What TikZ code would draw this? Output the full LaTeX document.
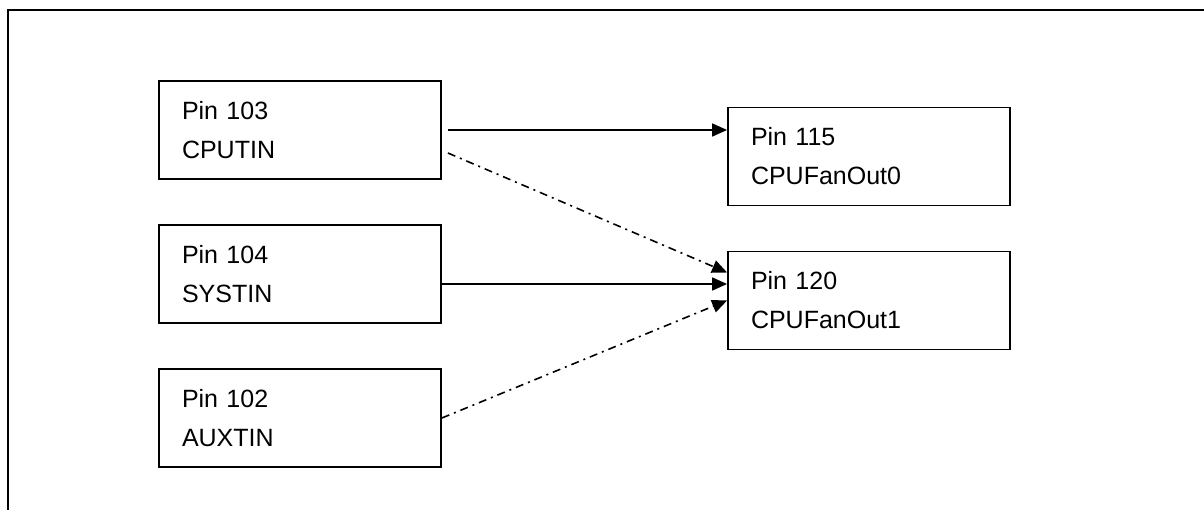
\documentclass[tikz,border=0pt]{standalone}
\usepackage{fontspec}
\setmainfont{Liberation Sans}
\usepackage{tikz}
\usetikzlibrary{arrows.meta}
\tikzstyle{pinbox} = [rectangle, draw=black, line width=1.8pt, minimum width=282pt, minimum height=98pt, text width=236pt, inner xsep=23pt, inner ysep=0pt, align=left, font=\fontsize{25}{39}\selectfont]
\tikzstyle{arrow} = [line width=1.6pt, -{Triangle[length=15pt, width=13pt]}]
\tikzstyle{optarrow} = [arrow, dash pattern=on 8pt off 5pt on 2pt off 5pt]

\begin{document}
\begin{tikzpicture}[x=1pt, y=-1pt, node distance=144pt]
      \useasboundingbox (0,0) rectangle (1204,510);
      \clip (0,0) rectangle (1204,510);
      \draw [line width=1.8pt] (8,10) rectangle (1240,540);
      \node (cputin) [pinbox] at (300,130) {Pin 103\\CPUTIN};
      \node (systin) [pinbox, below of=cputin] {Pin 104\\SYSTIN};
      \node (auxtin) [pinbox, below of=systin] {Pin 102\\AUXTIN};
      \node (fan0) [pinbox] at (869,156.5) {Pin 115\\CPUFanOut0};
      \node (fan1) [pinbox, below of=fan0] {Pin 120\\CPUFanOut1};
      \draw [arrow] ([xshift=6pt]cputin.east) -- (cputin.east -| fan0.west);
      \draw [optarrow] ([xshift=6pt, yshift=-23pt]cputin.east) -- ([yshift=28pt]fan1.west);
      \draw [arrow] ([yshift=-10pt]systin.east) -- ([yshift=-10pt]systin.east -| fan1.west);
      \draw [optarrow] (auxtin.east) -- (fan1.west);
    \end{tikzpicture}
\end{document}
